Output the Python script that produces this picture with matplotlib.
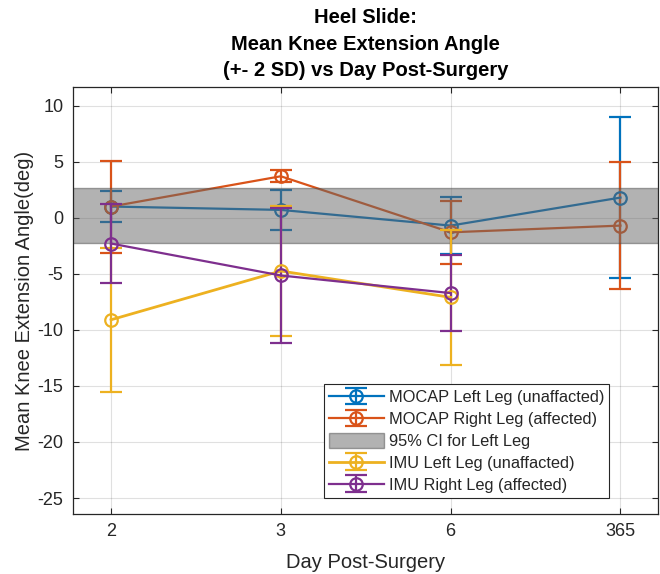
import matplotlib
matplotlib.use("Agg")
import matplotlib.pyplot as plt
import numpy as np

plt.rcParams['font.family'] = ['Liberation Sans', 'DejaVu Sans']
plt.rcParams['axes.unicode_minus'] = False

# Days after surgery (plotted as evenly spaced categories)
days = ["2", "3", "6", "365"]

# MOCAP means and 2*SD half-widths
mocap_left_mean = [1.0, 0.7, -0.7, 1.8]
mocap_left_err = [1.4, 1.8, 2.55, 7.2]
mocap_right_mean = [1.0, 3.7, -1.3, -0.7]
mocap_right_err = [4.1, 0.55, 2.8, 5.67]

# IMU means and 2*SD half-widths (no day 365 session)
imu_left_mean = [-9.1, -4.75, -7.1]
imu_left_err = [6.4, 5.8, 6.0]
imu_right_mean = [-2.3, -5.15, -6.72]
imu_right_err = [3.5, 6.0, 3.37]

# 95% CI band for the left leg
ci_low, ci_high = -2.26, 2.68

c_blue = "#0072BD"
c_orange = "#D95319"
c_yellow = "#EDB120"
c_purple = "#7E2F8E"
c_text = "#262626"

fig = plt.figure(figsize=(6.6, 5.74), dpi=100)
ax = fig.add_axes([0.1106, 0.105, 0.8871, 0.743])

x_all = np.arange(1, len(days) + 1)
x_imu = x_all[:len(imu_left_mean)]

style = dict(marker='o', mfc='none', markersize=9, capsize=8, lw=1.6, elinewidth=1.6,
             mew=1.6, capthick=1.6)

h1 = ax.errorbar(x_all, mocap_left_mean, yerr=mocap_left_err, color=c_blue,
                 label="MOCAP Left Leg (unaffacted)", zorder=2, **style)
h2 = ax.errorbar(x_all, mocap_right_mean, yerr=mocap_right_err, color=c_orange,
                 label="MOCAP Right Leg (affected)", zorder=2, **style)
h3 = ax.fill_between([0.5, 4.5], ci_low, ci_high, facecolor=(0.4, 0.4, 0.4), alpha=0.5,
                     edgecolor=(0.3, 0.3, 0.3), lw=1.0, label="95% CI for Left Leg",
                     zorder=2.5)
h4 = ax.errorbar(x_imu, imu_left_mean, yerr=imu_left_err, color=c_yellow,
                 label="IMU Left Leg (unaffacted)", zorder=3, **{**style, 'lw': 2.0})
h5 = ax.errorbar(x_imu, imu_right_mean, yerr=imu_right_err, color=c_purple,
                 label="IMU Right Leg (affected)", zorder=3, **style)

ax.set_xlim(0.776, 4.224)
ax.set_ylim(-26.4, 11.64)
ax.set_xticks(x_all)
ax.set_xticklabels(days)
ax.set_yticks(np.arange(-25, 11, 5))

ax.grid(True, color='black', alpha=0.12, lw=0.8)
ax.set_axisbelow(True)
ax.tick_params(direction='in', length=4, labelsize=13, colors=c_text,
               top=True, right=True, pad=7)
ax.tick_params(axis='y', pad=7)
for s in ax.spines.values():
    s.set_color(c_text)
    s.set_linewidth(0.9)

ax.set_xlabel("Day Post-Surgery", fontsize=14.5, color=c_text, labelpad=9)
ax.set_ylabel("Mean Knee Extension Angle(deg)", fontsize=14.5, color=c_text, labelpad=2)
ax.set_title("Heel Slide:\nMean Knee Extension Angle\n(+- 2 SD) vs Day Post-Surgery",
             fontsize=14.5, fontweight='bold', linespacing=1.5, pad=8)

leg = ax.legend([h1, h2, h3, h4, h5], [h.get_label() for h in (h1, h2, h3, h4, h5)],
                loc='lower right', bbox_to_anchor=(0.9155, 0.0368), fontsize=11.8,
                frameon=True, fancybox=False, edgecolor=c_text, framealpha=1,
                handlelength=3.35, handleheight=1.05, handletextpad=0.3,
                borderpad=0.3, labelspacing=0.35, borderaxespad=0)
leg.get_frame().set_linewidth(0.8)
for t in leg.get_texts():
    t.set_color(c_text)

fig.savefig("out.png", dpi=100)
